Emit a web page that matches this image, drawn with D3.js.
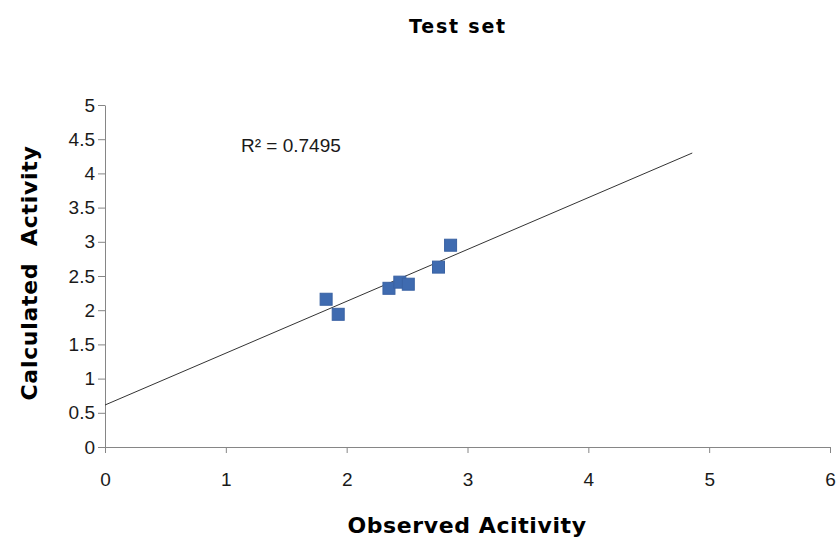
<!DOCTYPE html>
<html><head><meta charset="utf-8">
<script src="https://cdn.jsdelivr.net/npm/d3@7"></script>
<style>body{margin:0;background:#fff}svg{display:block}</style>
</head><body>
<svg id="c" width="838" height="540"></svg>
<script>
const observed   = [1.83, 1.93, 2.35, 2.44, 2.51, 2.76, 2.86];
const calculated = [2.16, 1.94, 2.32, 2.41, 2.38, 2.63, 2.95];
const xTicks = [0, 1, 2, 3, 4, 5, 6];
const yTicks = [0, 0.5, 1, 1.5, 2, 2.5, 3, 3.5, 4, 4.5, 5];
const trendIntercept = 0.614;
const trendSlope = 0.758;
const trendRange = [0, 4.86];
const r2Label = "R² = 0.7495";

const svg = d3.select("#c");
const x = d3.scaleLinear().domain([0, 6]).range([105, 830]);
const y = d3.scaleLinear().domain([0, 5]).range([447, 105]);
const axisColor = "#868686";
const tickFont = "'Liberation Sans', Arial, sans-serif";

const xa = svg.append("g").attr("transform", "translate(0,447)")
  .call(d3.axisBottom(x).tickValues(xTicks).tickFormat(d3.format("d")).tickSize(6).tickSizeOuter(0).tickPadding(20));
const ya = svg.append("g").attr("transform", "translate(105,0)")
  .call(d3.axisLeft(y).tickValues(yTicks).tickFormat(d => String(d)).tickSize(7).tickSizeOuter(0).tickPadding(3));
[xa, ya].forEach(a => {
  a.select(".domain").attr("stroke", axisColor);
  a.selectAll(".tick line").attr("stroke", axisColor);
  a.selectAll(".tick text").attr("fill", "#1a1a1a").style("font-family", tickFont).style("font-size", "19px");
});

svg.append("line")
  .attr("x1", x(trendRange[0])).attr("y1", y(trendIntercept + trendSlope * trendRange[0]))
  .attr("x2", x(trendRange[1])).attr("y2", y(trendIntercept + trendSlope * trendRange[1]))
  .attr("stroke", "#333").attr("stroke-width", 1);

const s = 12;
svg.append("g").selectAll("rect").data(observed.map((o, i) => [o, calculated[i]])).join("rect")
  .attr("x", d => x(d[0]) - s / 2).attr("y", d => y(d[1]) - s / 2)
  .attr("width", s).attr("height", s)
  .attr("fill", "#3f6bb0").attr("stroke", "#3a62a3").attr("stroke-width", 1);

svg.append("text").attr("x", 241).attr("y", 152).text(r2Label)
  .style("font-family", tickFont).style("font-size", "19px").attr("fill", "#1a1a1a");

const bold = "'DejaVu Sans', Verdana, sans-serif";
svg.append("text").attr("x", 458).attr("y", 33).attr("text-anchor", "middle").text("Test set")
  .style("font-family", bold).style("font-weight", "bold").style("font-size", "19px").style("letter-spacing", "1.8px");
svg.append("text").attr("x", 467).attr("y", 533).attr("text-anchor", "middle").text("Observed Acitivity")
  .style("font-family", bold).style("font-weight", "bold").style("font-size", "22px").style("letter-spacing", "0.6px");
svg.append("text").attr("transform", "translate(37,273) rotate(-90)").attr("text-anchor", "middle")
  .attr("xml:space", "preserve").style("white-space", "pre")
  .text("Calculated  Activity")
  .style("font-family", bold).style("font-weight", "bold").style("font-size", "22px").style("letter-spacing", "0.7px");
</script>
</body></html>
